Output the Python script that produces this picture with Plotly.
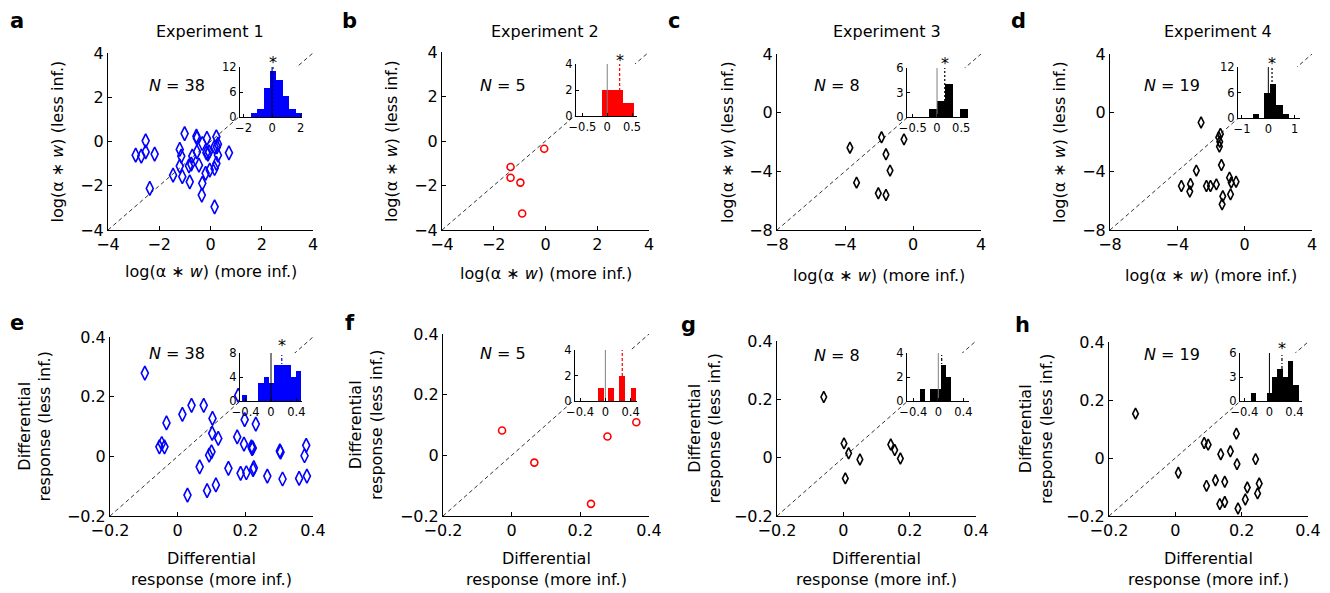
import plotly.graph_objects as go

W, H = 1330, 593
OFF = 8                      # page body margin of the browser
WF, HF = W - OFF, H - OFF    # figure size so that it fits in the window
FONT = "DejaVu Sans"

# ---------------- data ----------------
exp1_more = [-2.92, -2.70, -2.53, -2.53, -2.18, -2.37, -1.46, -1.20, -1.14, -1.20,
             -1.10, -1.01, -0.84, -0.81, -0.71, -0.75, -0.55, -0.53, -0.45, -0.53,
             -0.32, -0.32, -0.34, -0.19, -0.14, -0.16, -0.10, -0.06, -0.03, 0.16,
             0.16, 0.23, 0.25, 0.29, 0.23, 0.29, 0.16, 0.72]
exp1_less = [-0.62, -0.66, -0.47, 0.03, -0.57, -2.12, -1.52, -0.36, -0.66, -1.11,
             -1.59, 0.36, -1.10, -1.82, -0.66, -1.02, 0.24, 0.15, -1.07, -0.47,
             -0.09, -1.89, -2.42, -1.44, 0.14, -0.51, -0.57, -0.47, -1.29, -1.22,
             -2.95, 0.21, -0.24, -0.12, -0.99, -0.62, -0.24, -0.51]
exp2_more = [-0.05, -1.35, -1.35, -0.97, -0.90]
exp2_less = [-0.35, -1.17, -1.65, -1.87, -3.26]
exp3_more = [-3.71, -3.32, -1.85, -1.59, -1.35, -2.04, -1.59, -0.53]
exp3_less = [-2.39, -4.77, -1.68, -2.84, -3.95, -5.50, -5.61, -1.82]
exp4_more = [-2.59, -1.44, -1.54, -1.48, -1.50, -1.38, -2.87, -3.76, -3.22, -3.26,
             -2.27, -2.03, -1.68, -0.90, -0.80, -0.51, -1.30, -1.34, -0.84]
exp4_less = [-0.67, -1.45, -1.67, -1.98, -2.31, -3.57, -3.95, -5.00, -4.86, -5.38,
             -5.00, -5.00, -4.89, -4.43, -4.77, -4.71, -5.70, -6.25, -5.57]

diff1_more = [-0.097, -0.054, -0.047, -0.039, -0.033, 0.014, 0.041, 0.077, 0.103, 0.102,
              0.120, 0.093, 0.100, 0.065, 0.029, 0.087, 0.113, 0.150, 0.176, 0.186,
              0.198, 0.196, 0.203, 0.218, 0.220, 0.225, 0.231, 0.265, 0.302, 0.304,
              0.310, 0.359, 0.380, 0.375, 0.382, 0.179, 0.223, 0.222]
diff1_less = [0.279, 0.032, 0.043, 0.032, 0.112, 0.141, 0.171, 0.171, 0.127, 0.077,
              0.060, 0.004, 0.015, -0.035, -0.130, -0.115, -0.096, -0.040, 0.065, -0.057,
              0.123, 0.041, -0.055, 0.032, 0.026, -0.038, 0.108, -0.066, 0.018, 0.014,
              -0.076, -0.074, 0.037, 0.002, -0.066, 0.204, -0.045, 0.028]
diff2_more = [-0.028, 0.066, 0.231, 0.279, 0.363]
diff2_less = [0.082, -0.024, -0.160, 0.062, 0.109]
diff3_more = [-0.059, 0.002, 0.016, 0.050, 0.006, 0.143, 0.155, 0.172]
diff3_less = [0.208, 0.049, 0.015, -0.006, -0.071, 0.045, 0.026, -0.003]
diff4_more = [-0.120, 0.009, 0.087, 0.099, 0.184, 0.137, 0.166, 0.186, 0.242, 0.094,
              0.121, 0.149, 0.217, 0.253, 0.248, 0.134, 0.149, 0.211, 0.189]
diff4_less = [0.153, -0.051, 0.052, 0.046, 0.084, 0.013, 0.023, -0.021, -0.004, -0.096,
              -0.077, -0.082, -0.102, -0.088, -0.122, -0.159, -0.152, -0.143, -0.174]

# inset histograms: bin centres, counts, bin width, median
hist_a_centers = [-1.275, -0.825, -0.375, 0.075, 0.525, 0.975, 1.425, 1.875]
hist_a_counts = [1, 2, 7, 11, 9, 5, 2, 1]
hist_b_centers = [0.005, 0.215, 0.425]
hist_b_counts = [2, 2, 1]
hist_c_centers = [-0.08, 0.08, 0.24, 0.40, 0.56]
hist_c_counts = [1, 2, 4, 0, 1]
hist_d_centers = [-0.46, -0.06, 0.18, 0.42, 0.66]
hist_d_counts = [1, 6, 8, 3, 1]
hist_e_centers = [-0.417, -0.332, -0.246, -0.161, -0.075, 0.010, 0.096, 0.181, 0.267, 0.352, 0.438]
hist_e_counts = [1, 0, 0, 3, 4, 3, 6, 6, 6, 4, 5]
hist_f_centers = [-0.072, 0.088, 0.267, 0.445]
hist_f_counts = [1, 1, 2, 1]
hist_g_centers = [-0.2575, -0.0875, -0.0025, 0.0825, 0.1675]
hist_g_counts = [1, 1, 1, 3, 2]
hist_h_centers = [-0.2575, -0.0025, 0.0825, 0.1675, 0.2525, 0.3375, 0.4225]
hist_h_counts = [1, 1, 3, 4, 3, 5, 2]
medians = [0.07, 0.25, 0.16, 0.14, 0.17, 0.267, 0.054, 0.20]
n_counts = [38, 5, 8, 19, 38, 5, 8, 19]
experiments = ["Experiment 1", "Experiment 2", "Experiment 3", "Experiment 4"]
letters = ["a", "b", "c", "d", "e", "f", "g", "h"]

log_title_x = "log(\u03b1 \u2217 <i>w</i>) (more inf.)"
log_title_y = "log(\u03b1 \u2217 <i>w</i>) (less inf.)"
diff_title_x = "Differential<br>response (more inf.)"
diff_title_y = "Differential<br>response (less inf.)"

# ---------------- layout / style config (window pixel positions) ----------------
BLUE, RED, BLACK = "#0000ff", "#ff0000", "#000000"
panels = [
    dict(x=(108, 313), y=(53, 230), rng=(-4, 4), tv=[-4, -2, 0, 2, 4], data=(exp1_more, exp1_less),
         col=BLUE, sym="diamond-tall-open", msz=10,
         ins=dict(x=(240, 302), y=(67, 117), xr=(-2.25, 2.1), yr=(0, 12), xt=[-2, 0, 2], yt=[0, 6, 12],
                  c=hist_a_centers, n=hist_a_counts, w=0.45, zc=BLACK, md="2px,2px", star=True),
         nxy=(177, 86), letter=(17, 21), xt_y=272, yt_x=57, title=(210, 32), two=False),
    dict(x=(442, 649), y=(52, 230), rng=(-4, 4), tv=[-4, -2, 0, 2, 4], data=(exp2_more, exp2_less),
         col=RED, sym="circle-open", msz=7,
         ins=dict(x=(576, 637), y=(64, 116), xr=(-0.63, 0.6), yr=(0, 4), xt=[-0.5, 0, 0.5], yt=[0, 2, 4],
                  c=hist_b_centers, n=hist_b_counts, w=0.21, zc="#808080", md="3px,2px", star=True),
         nxy=(503, 86), letter=(350, 21), xt_y=274, yt_x=392, title=(545, 32), two=False),
    dict(x=(777, 981), y=(54, 230), rng=(-8, 4), tv=[-8, -4, 0, 4], data=(exp3_more, exp3_less),
         col=BLACK, sym="diamond-tall-open", msz=8,
         ins=dict(x=(907, 968), y=(68, 117), xr=(-0.62, 0.64), yr=(0, 6), xt=[-0.5, 0, 0.5], yt=[0, 3, 6],
                  c=hist_c_centers, n=hist_c_counts, w=0.16, zc="#808080", md="2px,2px", star=True),
         nxy=(837, 86), letter=(674, 21), xt_y=276, yt_x=728, title=(887, 32), two=False),
    dict(x=(1110, 1312), y=(54, 230), rng=(-8, 4), tv=[-8, -4, 0, 4], data=(exp4_more, exp4_less),
         col=BLACK, sym="diamond-tall-open", msz=8,
         ins=dict(x=(1238, 1300), y=(67, 118), xr=(-1.15, 1.2), yr=(0, 12), xt=[-1, 0, 1], yt=[0, 6, 12],
                  c=hist_d_centers, n=hist_d_counts, w=0.24, zc=BLACK, md="2px,2px", star=True),
         nxy=(1172, 86), letter=(1018, 21), xt_y=276, yt_x=1060, title=(1218, 32), two=False),
    dict(x=(110, 313), y=(337, 516), rng=(-0.2, 0.4), tv=[-0.2, 0, 0.2, 0.4], data=(diff1_more, diff1_less),
         col=BLUE, sym="diamond-tall-open", msz=10,
         ins=dict(x=(240, 302), y=(353, 401), xr=(-0.49, 0.49), yr=(0, 8), xt=[-0.4, 0, 0.4], yt=[0, 4, 8],
                  c=hist_e_centers, n=hist_e_counts, w=0.0855, zc=BLACK, md="3px,2px,1px,2px", star=True),
         nxy=(177, 353), letter=(17, 323), xt_y=569, yt_x=34, title=None, two=True),
    dict(x=(443, 649), y=(334, 516), rng=(-0.2, 0.4), tv=[-0.2, 0, 0.2, 0.4], data=(diff2_more, diff2_less),
         col=RED, sym="circle-open", msz=7,
         ins=dict(x=(575, 637), y=(350, 401), xr=(-0.48, 0.5), yr=(0, 4), xt=[-0.4, 0, 0.4], yt=[0, 2, 4],
                  c=hist_f_centers, n=hist_f_counts, w=0.09, zc="#808080", md="3px,2px", star=False),
         nxy=(503, 353), letter=(350, 323), xt_y=569, yt_x=366, title=None, two=True),
    dict(x=(777, 976), y=(341, 516), rng=(-0.2, 0.4), tv=[-0.2, 0, 0.2, 0.4], data=(diff3_more, diff3_less),
         col=BLACK, sym="diamond-tall-open", msz=8,
         ins=dict(x=(907, 969), y=(353, 401), xr=(-0.5, 0.49), yr=(0, 4), xt=[-0.4, 0, 0.4], yt=[0, 2, 4],
                  c=hist_g_centers, n=hist_g_counts, w=0.085, zc="#808080", md="3px,2px,1px,2px", star=False),
         nxy=(837, 355), letter=(688, 325), xt_y=569, yt_x=704, title=None, two=True),
    dict(x=(1109, 1308), y=(342, 516), rng=(-0.2, 0.4), tv=[-0.2, 0, 0.2, 0.4], data=(diff4_more, diff4_less),
         col=BLACK, sym="diamond-tall-open", msz=8,
         ins=dict(x=(1240, 1302), y=(353, 401), xr=(-0.47, 0.52), yr=(0, 6), xt=[-0.4, 0, 0.4], yt=[0, 3, 6],
                  c=hist_h_centers, n=hist_h_counts, w=0.085, zc=BLACK, md="3px,2px,1px,2px", star=True),
         nxy=(1172, 354), letter=(1022, 325), xt_y=569, yt_x=1036, title=None, two=True),
]
star_py = [58, 56, 59, 59, 342, None, None, 344]


def xd(p):
    return (p - OFF) / WF


def yd(p):
    return 1 - (p - OFF) / HF


def axname(kind, n):
    return f"{kind}axis" if n == 1 else f"{kind}axis{n}"


def ref(kind, n):
    return kind if n == 1 else f"{kind}{n}"


fig = go.Figure()
lay = {}
ann = []
shapes = []

# main panels first, then insets (so inset subplots are drawn on top)
for i, P in enumerate(panels):
    n = i + 1
    xr, yr = ref("x", n), ref("y", n)
    common = dict(showline=True, linecolor="black", linewidth=1, ticks="inside", ticklen=4,
                  tickcolor="black", showgrid=False, zeroline=False, range=list(P["rng"]),
                  tickvals=P["tv"], automargin=False,
                  tickfont=dict(family=FONT, size=16, color="black"))
    lay[axname("x", n)] = dict(domain=[xd(P["x"][0]), xd(P["x"][1])], anchor=yr, **common)
    lay[axname("y", n)] = dict(domain=[yd(P["y"][1]), yd(P["y"][0])], anchor=xr, **common)
    mx, my = P["data"]
    fig.add_trace(go.Scatter(x=mx, y=my, mode="markers", xaxis=xr, yaxis=yr, showlegend=False,
                             marker=dict(symbol=P["sym"], size=P["msz"], color=P["col"],
                                         line=dict(width=1.6, color=P["col"]))))
    r0, r1 = P["rng"]
    shapes.append(dict(type="line", xref=xr, yref=yr, x0=r0, y0=r0, x1=r1, y1=r1, layer="below",
                       line=dict(color="black", width=0.8, dash="4px,3px")))

for i, P in enumerate(panels):
    n = i + 9
    I = P["ins"]
    xr, yr = ref("x", n), ref("y", n)
    common = dict(showline=True, linecolor="black", linewidth=1, ticks="inside", ticklen=3,
                  tickcolor="black", showgrid=False, zeroline=False, automargin=False,
                  tickfont=dict(family=FONT, size=11.5, color="black"))
    lay[axname("x", n)] = dict(domain=[xd(I["x"][0]), xd(I["x"][1])], anchor=yr, range=list(I["xr"]),
                               tickvals=I["xt"], **common)
    lay[axname("y", n)] = dict(domain=[yd(I["y"][1]), yd(I["y"][0])], anchor=xr, range=list(I["yr"]),
                               tickvals=I["yt"], **common)
    shapes.append(dict(type="rect", xref=f"{xr} domain", yref=f"{yr} domain", x0=0, x1=1, y0=0, y1=1,
                       fillcolor="white", line=dict(width=0), layer="below"))
    fig.add_trace(go.Bar(x=I["c"], y=I["n"], width=I["w"], xaxis=xr, yaxis=yr, showlegend=False,
                         marker=dict(color=P["col"], line=dict(width=0))))
    ytop = I["yr"][1]
    fig.add_trace(go.Scatter(x=[0, 0], y=[0, ytop], mode="lines", xaxis=xr, yaxis=yr, showlegend=False,
                             line=dict(color=I["zc"], width=1)))
    med = medians[i]
    fig.add_trace(go.Scatter(x=[med, med], y=[0, ytop], mode="lines", xaxis=xr, yaxis=yr, showlegend=False,
                             line=dict(color=P["col"], width=1.2, dash=I["md"])))
    if I["star"]:
        ann.append(dict(x=med, xref=xr, y=yd(star_py[i] + 4), yref="paper", text="*", showarrow=False,
                        font=dict(family=FONT, size=16, color="black"), xanchor="center", yanchor="middle"))

# text annotations
for i, P in enumerate(panels):
    f16 = dict(family=FONT, size=16, color="black")
    ann.append(dict(x=xd(P["letter"][0]), y=yd(P["letter"][1]), xref="paper", yref="paper",
                    text=f"<b>{letters[i]}</b>", showarrow=False, xanchor="center", yanchor="middle",
                    font=dict(family=FONT, size=21, color="black")))
    ann.append(dict(x=xd(P["nxy"][0]), y=yd(P["nxy"][1]), xref="paper", yref="paper",
                    text=f"<i>N</i> = {n_counts[i]}", showarrow=False, xanchor="center", yanchor="middle",
                    font=f16))
    cx = (P["x"][0] + P["x"][1]) / 2
    if P["title"] is not None:
        ann.append(dict(x=xd(P["title"][0]), y=yd(P["title"][1]), xref="paper", yref="paper",
                        text=experiments[i], showarrow=False, xanchor="center", yanchor="middle", font=f16))
    tx = diff_title_x if P["two"] else log_title_x
    ty = diff_title_y if P["two"] else log_title_y
    ann.append(dict(x=xd(cx), y=yd(P["xt_y"]), xref="paper", yref="paper", text=tx, showarrow=False,
                    xanchor="center", yanchor="middle", font=f16))
    cy = (P["y"][0] + P["y"][1]) / 2
    ann.append(dict(x=xd(P["yt_x"]), y=yd(cy), xref="paper", yref="paper", text=ty, showarrow=False,
                    textangle=-90, xanchor="center", yanchor="middle", font=f16))

fig.update_layout(width=WF, height=HF, margin=dict(l=0, r=0, t=0, b=0, pad=0, autoexpand=False),
                  paper_bgcolor="white", plot_bgcolor="white", showlegend=False,
                  annotations=ann, shapes=shapes,
                  font=dict(family=FONT, color="black"), bargap=0, **lay)
fig.write_html("out.html")
